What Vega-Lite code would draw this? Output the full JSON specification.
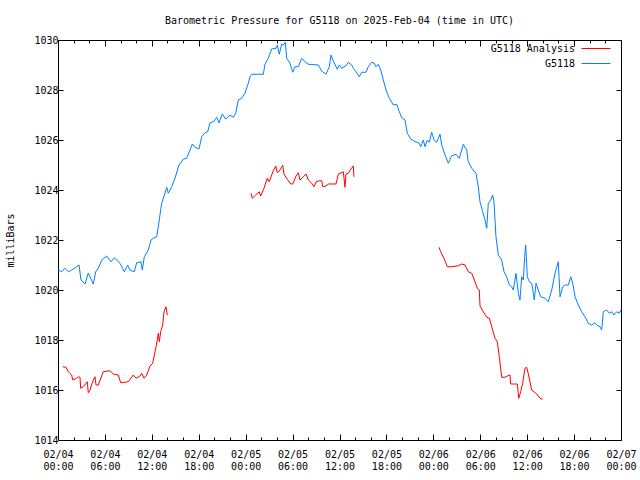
{
  "$schema": "https://vega.github.io/schema/vega-lite/v6.json",
  "autosize": {"type": "none"},
  "width": 563,
  "height": 400,
  "padding": {"left": 58, "top": 40, "right": 19, "bottom": 40},
  "background": "white",
  "config": {
    "font": "DejaVu Sans Mono",
    "view": {"stroke": "black", "strokeWidth": 1},
    "axis": {"domain": false, "grid": false, "labelFont": "DejaVu Sans Mono", "labelFontSize": 10, "labelColor": "black", "tickColor": "black", "titleFont": "DejaVu Sans Mono", "titleFontSize": 10, "titleFontWeight": "normal", "titleColor": "black"},
    "legend": {"labelFont": "DejaVu Sans Mono", "labelFontSize": 10, "labelColor": "black"}
  },
  "title": {"text": "Barometric Pressure for G5118 on 2025-Feb-04 (time in UTC)", "font": "DejaVu Sans Mono", "fontSize": 10, "fontWeight": "normal", "color": "black", "anchor": "middle", "offset": 9},
  "data": {"values": [
    {"s":"G5118","g":0,"h":0.0,"p":1020.8},{"s":"G5118","g":0,"h":0.13,"p":1020.8},{"s":"G5118","g":0,"h":0.47,"p":1020.73},{"s":"G5118","g":0,"h":0.9,"p":1020.87},{"s":"G5118","g":0,"h":1.32,"p":1020.73},{"s":"G5118","g":0,"h":1.75,"p":1020.8},{"s":"G5118","g":0,"h":2.17,"p":1020.88},{"s":"G5118","g":0,"h":2.69,"p":1021.0},{"s":"G5118","g":0,"h":2.94,"p":1020.4},{"s":"G5118","g":0,"h":3.45,"p":1020.24},{"s":"G5118","g":0,"h":3.87,"p":1020.68},{"s":"G5118","g":0,"h":4.51,"p":1020.24},{"s":"G5118","g":0,"h":4.82,"p":1020.73},{"s":"G5118","g":0,"h":5.15,"p":1020.87},{"s":"G5118","g":0,"h":5.59,"p":1021.2},{"s":"G5118","g":0,"h":6.23,"p":1021.36},{"s":"G5118","g":0,"h":6.78,"p":1021.13},{"s":"G5118","g":0,"h":7.2,"p":1021.29},{"s":"G5118","g":0,"h":7.93,"p":1021.07},{"s":"G5118","g":0,"h":8.48,"p":1020.73},{"s":"G5118","g":0,"h":8.91,"p":1021.0},{"s":"G5118","g":0,"h":9.21,"p":1020.8},{"s":"G5118","g":0,"h":9.76,"p":1020.73},{"s":"G5118","g":0,"h":10.06,"p":1021.09},{"s":"G5118","g":0,"h":10.61,"p":1021.13},{"s":"G5118","g":0,"h":10.78,"p":1020.8},{"s":"G5118","g":0,"h":11.04,"p":1021.33},{"s":"G5118","g":0,"h":11.55,"p":1021.6},{"s":"G5118","g":0,"h":11.89,"p":1022.0},{"s":"G5118","g":0,"h":12.19,"p":1022.07},{"s":"G5118","g":0,"h":12.62,"p":1022.13},{"s":"G5118","g":0,"h":12.83,"p":1022.53},{"s":"G5118","g":0,"h":13.04,"p":1023.0},{"s":"G5118","g":0,"h":13.26,"p":1023.47},{"s":"G5118","g":0,"h":13.68,"p":1023.87},{"s":"G5118","g":0,"h":13.9,"p":1024.11},{"s":"G5118","g":0,"h":14.11,"p":1023.87},{"s":"G5118","g":0,"h":14.54,"p":1024.13},{"s":"G5118","g":0,"h":14.96,"p":1024.47},{"s":"G5118","g":0,"h":15.47,"p":1025.0},{"s":"G5118","g":0,"h":16.02,"p":1025.23},{"s":"G5118","g":0,"h":16.46,"p":1025.27},{"s":"G5118","g":0,"h":16.88,"p":1025.6},{"s":"G5118","g":0,"h":17.18,"p":1025.84},{"s":"G5118","g":0,"h":17.43,"p":1025.73},{"s":"G5118","g":0,"h":18.03,"p":1025.64},{"s":"G5118","g":0,"h":18.38,"p":1026.13},{"s":"G5118","g":0,"h":18.8,"p":1026.29},{"s":"G5118","g":0,"h":19.14,"p":1026.33},{"s":"G5118","g":0,"h":19.44,"p":1026.69},{"s":"G5118","g":0,"h":19.86,"p":1026.73},{"s":"G5118","g":0,"h":20.3,"p":1026.91},{"s":"G5118","g":0,"h":20.59,"p":1026.69},{"s":"G5118","g":0,"h":21.01,"p":1027.04},{"s":"G5118","g":0,"h":21.45,"p":1026.84},{"s":"G5118","g":0,"h":22.0,"p":1027.0},{"s":"G5118","g":0,"h":22.42,"p":1026.91},{"s":"G5118","g":0,"h":22.73,"p":1027.07},{"s":"G5118","g":0,"h":23.06,"p":1027.6},{"s":"G5118","g":0,"h":23.49,"p":1027.67},{"s":"G5118","g":0,"h":23.91,"p":1027.87},{"s":"G5118","g":0,"h":24.34,"p":1028.27},{"s":"G5118","g":0,"h":24.55,"p":1028.53},{"s":"G5118","g":0,"h":24.77,"p":1028.63},{"s":"G5118","g":0,"h":26.26,"p":1028.63},{"s":"G5118","g":0,"h":26.47,"p":1029.03},{"s":"G5118","g":0,"h":26.89,"p":1029.27},{"s":"G5118","g":0,"h":27.33,"p":1029.64},{"s":"G5118","g":0,"h":27.88,"p":1029.67},{"s":"G5118","g":0,"h":28.05,"p":1029.8},{"s":"G5118","g":0,"h":28.3,"p":1029.43},{"s":"G5118","g":0,"h":28.61,"p":1029.83},{"s":"G5118","g":0,"h":28.81,"p":1029.8},{"s":"G5118","g":0,"h":29.07,"p":1029.91},{"s":"G5118","g":0,"h":29.25,"p":1029.27},{"s":"G5118","g":0,"h":29.67,"p":1029.07},{"s":"G5118","g":0,"h":30.02,"p":1028.71},{"s":"G5118","g":0,"h":30.31,"p":1028.93},{"s":"G5118","g":0,"h":30.73,"p":1028.93},{"s":"G5118","g":0,"h":31.17,"p":1029.27},{"s":"G5118","g":0,"h":31.59,"p":1029.13},{"s":"G5118","g":0,"h":32.01,"p":1029.03},{"s":"G5118","g":0,"h":33.29,"p":1029.0},{"s":"G5118","g":0,"h":33.73,"p":1028.76},{"s":"G5118","g":0,"h":34.27,"p":1028.63},{"s":"G5118","g":0,"h":34.7,"p":1028.93},{"s":"G5118","g":0,"h":34.91,"p":1029.4},{"s":"G5118","g":0,"h":35.21,"p":1029.16},{"s":"G5118","g":0,"h":35.72,"p":1028.83},{"s":"G5118","g":0,"h":35.97,"p":1029.0},{"s":"G5118","g":0,"h":36.28,"p":1028.87},{"s":"G5118","g":0,"h":36.83,"p":1028.97},{"s":"G5118","g":0,"h":37.13,"p":1029.11},{"s":"G5118","g":0,"h":37.56,"p":1029.0},{"s":"G5118","g":0,"h":37.77,"p":1028.87},{"s":"G5118","g":0,"h":38.11,"p":1028.73},{"s":"G5118","g":0,"h":38.53,"p":1028.53},{"s":"G5118","g":0,"h":38.84,"p":1028.71},{"s":"G5118","g":0,"h":39.39,"p":1028.71},{"s":"G5118","g":0,"h":39.68,"p":1028.93},{"s":"G5118","g":0,"h":40.12,"p":1029.11},{"s":"G5118","g":0,"h":40.41,"p":1029.08},{"s":"G5118","g":0,"h":40.67,"p":1028.93},{"s":"G5118","g":0,"h":40.96,"p":1029.03},{"s":"G5118","g":0,"h":41.27,"p":1028.8},{"s":"G5118","g":0,"h":41.6,"p":1028.4},{"s":"G5118","g":0,"h":41.95,"p":1028.0},{"s":"G5118","g":0,"h":42.37,"p":1027.67},{"s":"G5118","g":0,"h":42.88,"p":1027.4},{"s":"G5118","g":0,"h":43.32,"p":1027.43},{"s":"G5118","g":0,"h":43.65,"p":1027.13},{"s":"G5118","g":0,"h":43.96,"p":1026.89},{"s":"G5118","g":0,"h":44.38,"p":1026.8},{"s":"G5118","g":0,"h":44.67,"p":1026.27},{"s":"G5118","g":0,"h":45.11,"p":1026.04},{"s":"G5118","g":0,"h":45.53,"p":1025.96},{"s":"G5118","g":0,"h":45.87,"p":1025.91},{"s":"G5118","g":0,"h":46.21,"p":1025.87},{"s":"G5118","g":0,"h":46.39,"p":1025.73},{"s":"G5118","g":0,"h":46.72,"p":1026.0},{"s":"G5118","g":0,"h":46.94,"p":1025.73},{"s":"G5118","g":0,"h":47.23,"p":1026.0},{"s":"G5118","g":0,"h":47.49,"p":1025.91},{"s":"G5118","g":0,"h":47.79,"p":1026.31},{"s":"G5118","g":0,"h":48.09,"p":1026.0},{"s":"G5118","g":0,"h":48.43,"p":1025.91},{"s":"G5118","g":0,"h":48.64,"p":1026.07},{"s":"G5118","g":0,"h":48.85,"p":1026.23},{"s":"G5118","g":0,"h":49.07,"p":1025.8},{"s":"G5118","g":0,"h":49.49,"p":1025.4},{"s":"G5118","g":0,"h":49.92,"p":1025.07},{"s":"G5118","g":0,"h":50.35,"p":1025.37},{"s":"G5118","g":0,"h":50.9,"p":1025.43},{"s":"G5118","g":0,"h":51.32,"p":1025.27},{"s":"G5118","g":0,"h":51.83,"p":1025.83},{"s":"G5118","g":0,"h":52.27,"p":1025.6},{"s":"G5118","g":0,"h":52.47,"p":1025.13},{"s":"G5118","g":0,"h":52.91,"p":1024.87},{"s":"G5118","g":0,"h":53.46,"p":1024.67},{"s":"G5118","g":0,"h":53.75,"p":1024.13},{"s":"G5118","g":0,"h":53.97,"p":1023.53},{"s":"G5118","g":0,"h":54.31,"p":1023.13},{"s":"G5118","g":0,"h":54.61,"p":1022.8},{"s":"G5118","g":0,"h":54.83,"p":1022.47},{"s":"G5118","g":0,"h":55.03,"p":1023.47},{"s":"G5118","g":0,"h":55.34,"p":1023.6},{"s":"G5118","g":0,"h":55.59,"p":1023.8},{"s":"G5118","g":0,"h":55.76,"p":1023.53},{"s":"G5118","g":0,"h":56.01,"p":1022.13},{"s":"G5118","g":0,"h":56.31,"p":1021.4},{"s":"G5118","g":0,"h":56.74,"p":1021.2},{"s":"G5118","g":0,"h":57.04,"p":1020.73},{"s":"G5118","g":0,"h":57.38,"p":1020.53},{"s":"G5118","g":0,"h":57.72,"p":1020.2},{"s":"G5118","g":0,"h":58.02,"p":1020.13},{"s":"G5118","g":0,"h":58.23,"p":1020.0},{"s":"G5118","g":0,"h":58.57,"p":1020.67},{"s":"G5118","g":0,"h":58.87,"p":1019.87},{"s":"G5118","g":0,"h":59.08,"p":1019.6},{"s":"G5118","g":0,"h":59.3,"p":1020.53},{"s":"G5118","g":0,"h":59.51,"p":1020.4},{"s":"G5118","g":0,"h":59.68,"p":1021.33},{"s":"G5118","g":0,"h":59.81,"p":1021.8},{"s":"G5118","g":0,"h":60.02,"p":1020.53},{"s":"G5118","g":0,"h":60.27,"p":1020.33},{"s":"G5118","g":0,"h":60.58,"p":1020.27},{"s":"G5118","g":0,"h":60.79,"p":1019.87},{"s":"G5118","g":0,"h":60.91,"p":1019.6},{"s":"G5118","g":0,"h":61.13,"p":1020.27},{"s":"G5118","g":0,"h":61.42,"p":1020.0},{"s":"G5118","g":0,"h":61.73,"p":1019.73},{"s":"G5118","g":0,"h":62.28,"p":1019.67},{"s":"G5118","g":0,"h":62.7,"p":1019.53},{"s":"G5118","g":0,"h":63.14,"p":1020.0},{"s":"G5118","g":0,"h":63.56,"p":1020.67},{"s":"G5118","g":0,"h":63.98,"p":1021.13},{"s":"G5118","g":0,"h":64.2,"p":1019.73},{"s":"G5118","g":0,"h":64.54,"p":1020.13},{"s":"G5118","g":0,"h":64.84,"p":1020.2},{"s":"G5118","g":0,"h":65.26,"p":1020.2},{"s":"G5118","g":0,"h":65.57,"p":1020.53},{"s":"G5118","g":0,"h":65.83,"p":1020.27},{"s":"G5118","g":0,"h":66.12,"p":1019.73},{"s":"G5118","g":0,"h":66.54,"p":1019.4},{"s":"G5118","g":0,"h":66.97,"p":1019.13},{"s":"G5118","g":0,"h":67.4,"p":1018.93},{"s":"G5118","g":0,"h":67.82,"p":1018.67},{"s":"G5118","g":0,"h":68.25,"p":1018.6},{"s":"G5118","g":0,"h":68.64,"p":1018.69},{"s":"G5118","g":0,"h":68.89,"p":1018.6},{"s":"G5118","g":0,"h":69.31,"p":1018.53},{"s":"G5118","g":0,"h":69.53,"p":1018.4},{"s":"G5118","g":0,"h":69.74,"p":1019.13},{"s":"G5118","g":0,"h":70.17,"p":1019.2},{"s":"G5118","g":0,"h":70.51,"p":1019.07},{"s":"G5118","g":0,"h":70.82,"p":1019.13},{"s":"G5118","g":0,"h":71.1,"p":1019.0},{"s":"G5118","g":0,"h":71.45,"p":1019.13},{"s":"G5118","g":0,"h":71.78,"p":1019.07},{"s":"G5118","g":0,"h":72.0,"p":1019.2},
    {"s":"G5118 Analysis","g":1,"h":0.6,"p":1016.93},{"s":"G5118 Analysis","g":1,"h":1.02,"p":1016.91},{"s":"G5118 Analysis","g":1,"h":1.32,"p":1016.73},{"s":"G5118 Analysis","g":1,"h":1.75,"p":1016.6},{"s":"G5118 Analysis","g":1,"h":1.88,"p":1016.4},{"s":"G5118 Analysis","g":1,"h":2.39,"p":1016.47},{"s":"G5118 Analysis","g":1,"h":2.6,"p":1016.53},{"s":"G5118 Analysis","g":1,"h":2.81,"p":1016.51},{"s":"G5118 Analysis","g":1,"h":2.9,"p":1016.07},{"s":"G5118 Analysis","g":1,"h":3.24,"p":1016.13},{"s":"G5118 Analysis","g":1,"h":3.75,"p":1016.33},{"s":"G5118 Analysis","g":1,"h":3.87,"p":1015.89},{"s":"G5118 Analysis","g":1,"h":4.09,"p":1016.0},{"s":"G5118 Analysis","g":1,"h":4.51,"p":1016.4},{"s":"G5118 Analysis","g":1,"h":4.73,"p":1016.53},{"s":"G5118 Analysis","g":1,"h":4.86,"p":1016.2},{"s":"G5118 Analysis","g":1,"h":5.15,"p":1016.2},{"s":"G5118 Analysis","g":1,"h":5.79,"p":1016.73},{"s":"G5118 Analysis","g":1,"h":6.65,"p":1016.77},{"s":"G5118 Analysis","g":1,"h":7.07,"p":1016.64},{"s":"G5118 Analysis","g":1,"h":7.71,"p":1016.6},{"s":"G5118 Analysis","g":1,"h":8.02,"p":1016.29},{"s":"G5118 Analysis","g":1,"h":8.99,"p":1016.33},{"s":"G5118 Analysis","g":1,"h":9.63,"p":1016.6},{"s":"G5118 Analysis","g":1,"h":9.98,"p":1016.47},{"s":"G5118 Analysis","g":1,"h":10.49,"p":1016.56},{"s":"G5118 Analysis","g":1,"h":10.7,"p":1016.67},{"s":"G5118 Analysis","g":1,"h":11.0,"p":1016.47},{"s":"G5118 Analysis","g":1,"h":11.34,"p":1016.6},{"s":"G5118 Analysis","g":1,"h":11.77,"p":1016.96},{"s":"G5118 Analysis","g":1,"h":12.11,"p":1017.07},{"s":"G5118 Analysis","g":1,"h":12.41,"p":1017.53},{"s":"G5118 Analysis","g":1,"h":12.7,"p":1018.0},{"s":"G5118 Analysis","g":1,"h":12.83,"p":1018.27},{"s":"G5118 Analysis","g":1,"h":12.96,"p":1017.93},{"s":"G5118 Analysis","g":1,"h":13.13,"p":1018.33},{"s":"G5118 Analysis","g":1,"h":13.39,"p":1018.6},{"s":"G5118 Analysis","g":1,"h":13.56,"p":1019.13},{"s":"G5118 Analysis","g":1,"h":13.81,"p":1019.33},{"s":"G5118 Analysis","g":1,"h":13.98,"p":1019.0},
    {"s":"G5118 Analysis","g":2,"h":24.68,"p":1023.87},{"s":"G5118 Analysis","g":2,"h":24.85,"p":1023.67},{"s":"G5118 Analysis","g":2,"h":25.28,"p":1023.8},{"s":"G5118 Analysis","g":2,"h":25.74,"p":1023.93},{"s":"G5118 Analysis","g":2,"h":25.92,"p":1023.76},{"s":"G5118 Analysis","g":2,"h":26.34,"p":1024.07},{"s":"G5118 Analysis","g":2,"h":26.77,"p":1024.47},{"s":"G5118 Analysis","g":2,"h":27.02,"p":1024.33},{"s":"G5118 Analysis","g":2,"h":27.53,"p":1024.77},{"s":"G5118 Analysis","g":2,"h":27.84,"p":1024.96},{"s":"G5118 Analysis","g":2,"h":28.05,"p":1024.69},{"s":"G5118 Analysis","g":2,"h":28.39,"p":1024.8},{"s":"G5118 Analysis","g":2,"h":28.74,"p":1024.99},{"s":"G5118 Analysis","g":2,"h":28.9,"p":1024.64},{"s":"G5118 Analysis","g":2,"h":29.32,"p":1024.43},{"s":"G5118 Analysis","g":2,"h":29.76,"p":1024.24},{"s":"G5118 Analysis","g":2,"h":30.02,"p":1024.24},{"s":"G5118 Analysis","g":2,"h":30.44,"p":1024.56},{"s":"G5118 Analysis","g":2,"h":30.73,"p":1024.69},{"s":"G5118 Analysis","g":2,"h":30.95,"p":1024.4},{"s":"G5118 Analysis","g":2,"h":31.37,"p":1024.53},{"s":"G5118 Analysis","g":2,"h":31.72,"p":1024.64},{"s":"G5118 Analysis","g":2,"h":32.01,"p":1024.4},{"s":"G5118 Analysis","g":2,"h":32.45,"p":1024.27},{"s":"G5118 Analysis","g":2,"h":32.74,"p":1024.13},{"s":"G5118 Analysis","g":2,"h":33.0,"p":1024.32},{"s":"G5118 Analysis","g":2,"h":33.42,"p":1024.37},{"s":"G5118 Analysis","g":2,"h":33.73,"p":1024.37},{"s":"G5118 Analysis","g":2,"h":33.86,"p":1024.13},{"s":"G5118 Analysis","g":2,"h":34.27,"p":1024.16},{"s":"G5118 Analysis","g":2,"h":34.57,"p":1024.24},{"s":"G5118 Analysis","g":2,"h":35.55,"p":1024.24},{"s":"G5118 Analysis","g":2,"h":35.85,"p":1024.64},{"s":"G5118 Analysis","g":2,"h":36.49,"p":1024.73},{"s":"G5118 Analysis","g":2,"h":36.7,"p":1024.11},{"s":"G5118 Analysis","g":2,"h":36.83,"p":1024.64},{"s":"G5118 Analysis","g":2,"h":37.13,"p":1024.67},{"s":"G5118 Analysis","g":2,"h":37.43,"p":1024.83},{"s":"G5118 Analysis","g":2,"h":37.77,"p":1024.96},{"s":"G5118 Analysis","g":2,"h":37.85,"p":1024.53},
    {"s":"G5118 Analysis","g":3,"h":48.73,"p":1021.71},{"s":"G5118 Analysis","g":3,"h":48.94,"p":1021.53},{"s":"G5118 Analysis","g":3,"h":49.36,"p":1021.27},{"s":"G5118 Analysis","g":3,"h":49.79,"p":1020.93},{"s":"G5118 Analysis","g":3,"h":50.35,"p":1020.93},{"s":"G5118 Analysis","g":3,"h":51.19,"p":1020.97},{"s":"G5118 Analysis","g":3,"h":51.63,"p":1021.04},{"s":"G5118 Analysis","g":3,"h":52.05,"p":1021.0},{"s":"G5118 Analysis","g":3,"h":52.47,"p":1020.73},{"s":"G5118 Analysis","g":3,"h":52.91,"p":1020.67},{"s":"G5118 Analysis","g":3,"h":53.33,"p":1020.33},{"s":"G5118 Analysis","g":3,"h":53.62,"p":1020.07},{"s":"G5118 Analysis","g":3,"h":53.88,"p":1020.0},{"s":"G5118 Analysis","g":3,"h":53.97,"p":1019.36},{"s":"G5118 Analysis","g":3,"h":54.39,"p":1019.13},{"s":"G5118 Analysis","g":3,"h":54.83,"p":1018.91},{"s":"G5118 Analysis","g":3,"h":55.16,"p":1018.87},{"s":"G5118 Analysis","g":3,"h":55.59,"p":1018.4},{"s":"G5118 Analysis","g":3,"h":55.89,"p":1018.07},{"s":"G5118 Analysis","g":3,"h":56.18,"p":1017.93},{"s":"G5118 Analysis","g":3,"h":56.44,"p":1017.33},{"s":"G5118 Analysis","g":3,"h":56.74,"p":1016.51},{"s":"G5118 Analysis","g":3,"h":57.17,"p":1016.51},{"s":"G5118 Analysis","g":3,"h":57.46,"p":1016.56},{"s":"G5118 Analysis","g":3,"h":57.8,"p":1016.6},{"s":"G5118 Analysis","g":3,"h":57.89,"p":1016.24},{"s":"G5118 Analysis","g":3,"h":58.23,"p":1016.24},{"s":"G5118 Analysis","g":3,"h":58.74,"p":1016.24},{"s":"G5118 Analysis","g":3,"h":58.92,"p":1015.67},{"s":"G5118 Analysis","g":3,"h":59.17,"p":1015.93},{"s":"G5118 Analysis","g":3,"h":59.43,"p":1016.27},{"s":"G5118 Analysis","g":3,"h":59.72,"p":1016.87},{"s":"G5118 Analysis","g":3,"h":59.94,"p":1016.91},{"s":"G5118 Analysis","g":3,"h":60.15,"p":1016.64},{"s":"G5118 Analysis","g":3,"h":60.58,"p":1016.0},{"s":"G5118 Analysis","g":3,"h":60.87,"p":1015.93},{"s":"G5118 Analysis","g":3,"h":61.22,"p":1015.84},{"s":"G5118 Analysis","g":3,"h":61.64,"p":1015.67},{"s":"G5118 Analysis","g":3,"h":61.99,"p":1015.63}
  ]},
  "resolve": {"axis": {"x": "independent", "y": "independent"}},
  "layer": [
    {
      "transform": [{"filter": "datum.s === 'G5118'"}],
      "mark": {"type": "line", "strokeWidth": 1, "interpolate": "linear"},
      "encoding": {
        "x": {"field": "h", "type": "quantitative", "scale": {"domain": [0, 72], "nice": false, "zero": false},
          "axis": {"orient": "bottom", "title": null, "values": [0,2,4,6,8,10,12,14,16,18,20,22,24,26,28,30,32,34,36,38,40,42,44,46,48,50,52,54,56,58,60,62,64,66,68,70,72],
            "tickSize": {"condition": {"test": "datum.value % 6 === 0", "value": -6}, "value": -3},
            "labelExpr": "datum.value % 6 === 0 ? ['02/0' + (4 + floor(datum.value / 24)), (datum.value % 24 < 10 ? '0' : '') + (datum.value % 24) + ':00'] : ''",
            "labelOverlap": false, "labelFlush": false, "labelPadding": 15, "labelLineHeight": 12, "labelBaseline": "top"}},
        "y": {"field": "p", "type": "quantitative", "scale": {"domain": [1014, 1030], "nice": false, "zero": false},
          "axis": {"orient": "left", "title": "milliBars", "values": [1014,1016,1018,1020,1022,1024,1026,1028,1030], "format": "d", "tickSize": -5, "labelPadding": 5, "titlePadding": 18}},
        "color": {"field": "s", "type": "nominal", "scale": {"domain": ["G5118 Analysis", "G5118"], "range": ["#ff0000", "#0080ff"]},
          "legend": {"title": null, "orient": "none", "legendX": 532.5, "legendY": 3, "symbolType": "M-2.9,0H2.9", "symbolSize": 100, "symbolStrokeWidth": 1, "symbolFillColor": "transparent", "labelAlign": "right", "labelOffset": -26.5, "rowPadding": 4}},
        "detail": {"field": "g", "type": "nominal"}
      }
    },
    {
      "transform": [{"filter": "datum.s === 'G5118 Analysis'"}],
      "mark": {"type": "line", "strokeWidth": 1, "interpolate": "linear"},
      "encoding": {
        "x": {"field": "h", "type": "quantitative", "scale": {"domain": [0, 72], "nice": false, "zero": false},
          "axis": {"orient": "top", "title": null, "labels": false, "values": [0,2,4,6,8,10,12,14,16,18,20,22,24,26,28,30,32,34,36,38,40,42,44,46,48,50,52,54,56,58,60,62,64,66,68,70,72],
            "tickSize": {"condition": {"test": "datum.value % 6 === 0", "value": -6}, "value": -3}}},
        "y": {"field": "p", "type": "quantitative", "scale": {"domain": [1014, 1030], "nice": false, "zero": false},
          "axis": {"orient": "right", "title": null, "labels": false, "values": [1014,1016,1018,1020,1022,1024,1026,1028,1030], "tickSize": -5}},
        "color": {"field": "s", "type": "nominal", "scale": {"domain": ["G5118 Analysis", "G5118"], "range": ["#ff0000", "#0080ff"]}},
        "detail": {"field": "g", "type": "nominal"}
      }
    }
  ]
}
